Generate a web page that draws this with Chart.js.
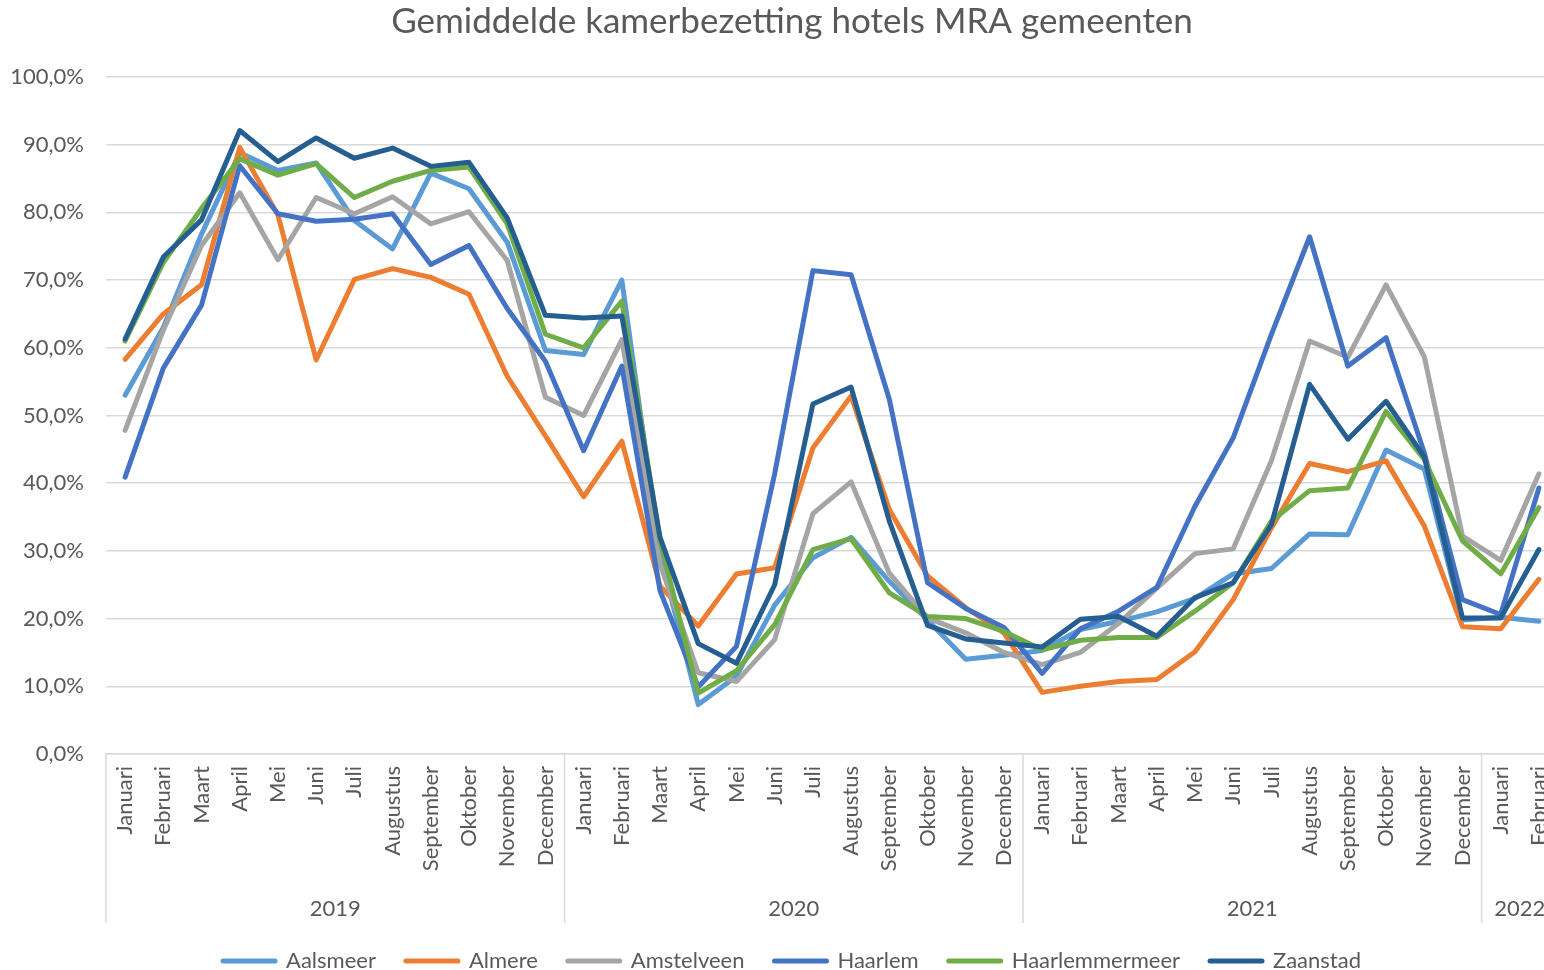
<!DOCTYPE html>
<html lang="nl">
<head>
<meta charset="UTF-8">
<title>Gemiddelde kamerbezetting hotels MRA gemeenten</title>
<script src="https://cdn.jsdelivr.net/npm/chart.js@4.4.1/dist/chart.umd.min.js"></script>
<style>
  html, body { margin: 0; padding: 0; background: #fff; overflow: hidden; }
  #wrap { width: 1584px; height: 982px; }
</style>
</head>
<body>
<div id="wrap"><canvas id="chart" width="1584" height="982"></canvas></div>
<script>
// months / years of the category axis
var months = ["Januari", "Februari", "Maart", "April", "Mei", "Juni", "Juli",
              "Augustus", "September", "Oktober", "November", "December"];
var years = ["2019", "2020", "2021", "2022"];
var monthsPerYear = [12, 12, 12, 2];

// room occupancy in %
var aalsmeer = [53.0, 63.0, 76.8, 88.8, 86.2, 87.3, 78.8, 74.6, 85.8, 83.5, 75.6, 59.6,
                59.0, 70.0, 29.5, 7.3, 11.5, 22.0, 29.0, 32.0, 25.5, 19.8, 14.0, 14.6,
                15.3, 18.4, 19.6, 21.0, 23.0, 26.6, 27.4, 32.5, 32.4, 44.9, 42.1, 19.8,
                20.2, 19.6];
var almere = [58.3, 65.0, 69.3, 89.6, 79.6, 58.2, 70.1, 71.7, 70.4, 67.9, 55.8, 47.0,
              38.0, 46.2, 24.8, 18.9, 26.6, 27.5, 45.2, 52.9, 36.1, 26.3, 21.6, 17.9,
              9.1, 10.0, 10.7, 11.0, 15.1, 22.8, 33.4, 42.9, 41.7, 43.3, 33.7, 18.8,
              18.5, 25.8];
var amstelveen = [47.8, 62.6, 75.1, 82.9, 73.0, 82.2, 79.8, 82.3, 78.3, 80.1, 72.9, 52.7,
                  50.0, 61.2, 28.0, 12.0, 10.7, 16.9, 35.5, 40.2, 26.7, 20.1, 17.9, 15.0,
                  13.2, 15.0, 19.3, 24.5, 29.6, 30.3, 43.3, 61.0, 58.6, 69.3, 58.7, 32.2,
                  28.6, 41.4];
var haarlem = [40.9, 57.0, 66.3, 86.9, 79.8, 78.7, 79.0, 79.8, 72.3, 75.1, 65.8, 58.0,
               44.8, 57.3, 24.1, 9.9, 15.9, 41.4, 71.4, 70.8, 52.4, 25.3, 21.5, 18.7,
               11.9, 18.5, 21.1, 24.6, 36.6, 46.7, 62.0, 76.4, 57.3, 61.5, 44.5, 22.8,
               20.6, 39.3];
var haarlemmermeer = [61.0, 72.6, 80.6, 87.9, 85.5, 87.2, 82.2, 84.6, 86.2, 86.7, 78.3, 62.0,
                      60.0, 66.9, 31.5, 9.0, 12.3, 19.1, 30.2, 31.8, 23.8, 20.3, 20.0, 18.1,
                      15.4, 16.8, 17.2, 17.2, 21.1, 25.3, 34.4, 38.9, 39.3, 50.6, 43.5, 31.5,
                      26.6, 36.4];
var zaanstad = [61.3, 73.4, 78.9, 92.1, 87.5, 91.0, 88.0, 89.5, 86.8, 87.4, 79.2, 64.8,
                64.4, 64.7, 32.0, 16.3, 13.4, 25.0, 51.7, 54.2, 34.4, 19.0, 17.0, 16.4,
                15.8, 19.9, 20.3, 17.4, 23.1, 25.3, 33.9, 54.6, 46.5, 52.1, 43.9, 20.1,
                20.1, 30.2];

var labels = [];
years.forEach(function (y, k) {
    for (var m = 0; m < monthsPerYear[k]; m++) labels.push(months[m]);
});

var textColor = "#595959";
var gridColor = "#d9d9d9";
var fontName = "Lato, 'Open Sans', sans-serif";

function serie(name, data, color, order) {
    return {
        label: name,
        data: data,
        borderColor: color,
        backgroundColor: color,
        borderWidth: 5,
        borderJoinStyle: "round",
        borderCapStyle: "round",
        pointRadius: 0,
        tension: 0,
        order: order
    };
}

// year row under the month labels, with separators
var yearGroups = {
    id: "yearGroups",
    afterDraw: function (chart) {
        var x = chart.scales.x;
        var ctx = chart.ctx;
        var top = chart.chartArea.bottom;
        var bottom = top + 169;
        var half = (x.getPixelForValue(1) - x.getPixelForValue(0)) / 2;
        ctx.save();
        ctx.strokeStyle = gridColor;
        ctx.lineWidth = 1.5;
        ctx.fillStyle = textColor;
        ctx.font = "22px " + fontName;
        ctx.textAlign = "center";
        ctx.textBaseline = "middle";
        var start = 0;
        years.forEach(function (yr, k) {
            var end = start + monthsPerYear[k] - 1;
            var left = x.getPixelForValue(start) - half;
            var right = x.getPixelForValue(end) + half;
            ctx.beginPath();
            ctx.moveTo(left, top);
            ctx.lineTo(left, bottom);
            ctx.stroke();
            ctx.fillText(yr, (left + right) / 2, top + 155);
            start = end + 1;
        });
        ctx.restore();
    }
};

// the plot is wider on the right, so center title + legend on the whole canvas
var centerBoxes = {
    id: "centerBoxes",
    afterLayout: function (chart) {
        chart.titleBlock.left += 26;
        chart.legend.left += 26;
    }
};

var ctx = document.getElementById("chart").getContext("2d");
var myChart = new Chart(ctx, {
    type: "line",
    data: {
        labels: labels,
        datasets: [
            serie("Aalsmeer", aalsmeer, "#5B9BD5", 6),
            serie("Almere", almere, "#ED7D31", 5),
            serie("Amstelveen", amstelveen, "#A5A5A5", 4),
            serie("Haarlem", haarlem, "#4472C4", 3),
            serie("Haarlemmermeer", haarlemmermeer, "#70AD47", 2),
            serie("Zaanstad", zaanstad, "#255E91", 1)
        ]
    },
    options: {
        responsive: false,
        animation: false,
        devicePixelRatio: 1,
        layout: { padding: { left: 0, right: 26, top: 0, bottom: 0 } },
        plugins: {
            title: {
                display: true,
                text: "Gemiddelde kamerbezetting hotels MRA gemeenten",
                color: textColor,
                font: { family: fontName, size: 35, weight: "normal" },
                padding: { top: 1, bottom: 34 }
            },
            legend: {
                position: "bottom",
                labels: {
                    color: textColor,
                    font: { family: fontName, size: 22 },
                    usePointStyle: true,
                    pointStyleWidth: 52,
                    boxHeight: 5,
                    padding: 30,
                    generateLabels: function (chart) {
                        return Chart.defaults.plugins.legend.labels.generateLabels(chart).map(function (l) {
                            l.pointStyle = "line";
                            l.lineWidth = 5;
                            l.lineCap = "round";
                            return l;
                        });
                    },
                    sort: function (a, b) { return a.datasetIndex - b.datasetIndex; }
                }
            },
            tooltip: { enabled: false }
        },
        scales: {
            x: {
                offset: true,
                grid: { display: false, drawTicks: false },
                border: { display: true, color: gridColor, width: 1.5 },
                ticks: {
                    color: textColor,
                    font: { family: fontName, size: 22 },
                    minRotation: 90,
                    maxRotation: 90,
                    autoSkip: false,
                    padding: 12
                },
                afterFit: function (scale) { scale.height = 166; }
            },
            y: {
                min: 0,
                max: 100,
                grid: { color: gridColor, lineWidth: 1.5, drawTicks: false },
                border: { display: false },
                ticks: {
                    stepSize: 10,
                    color: textColor,
                    font: { family: fontName, size: 22 },
                    padding: 22,
                    callback: function (v) { return v.toFixed(1).replace(".", ",") + "%"; }
                },
                afterFit: function (scale) { scale.width = 106; }
            }
        }
    },
    plugins: [yearGroups, centerBoxes]
});
</script>
</body>
</html>
